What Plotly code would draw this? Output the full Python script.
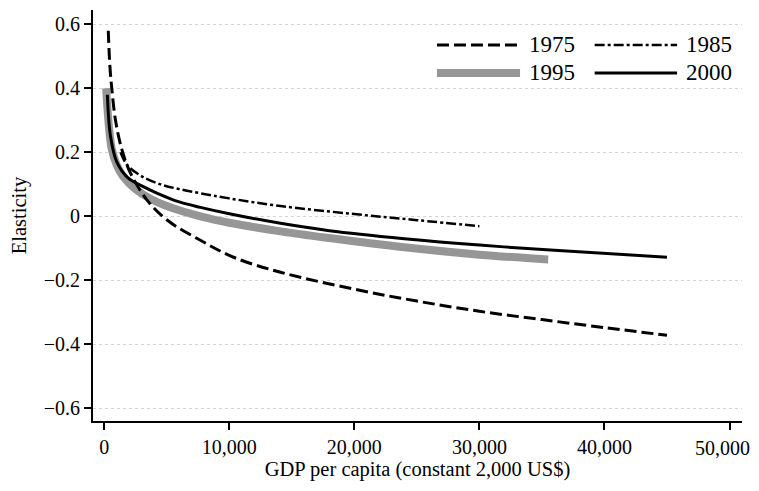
import plotly.graph_objects as go

# ---- data ----
x_1975 = [320, 450, 600, 900, 1400, 2100, 3440, 5050, 7690, 10340, 14100, 20000, 25000, 30000, 35000, 40000, 45000]
y_1975 = [0.58, 0.47, 0.40, 0.30, 0.21, 0.135, 0.05, -0.0125, -0.075, -0.128, -0.175, -0.228, -0.265, -0.297, -0.323, -0.348, -0.372]

x_1985 = [1300, 1840, 3000, 4500, 6000, 7690, 10000, 14100, 20000, 25000, 30000]
y_1985 = [0.20, 0.16, 0.125, 0.10, 0.085, 0.072, 0.056, 0.032, 0.007, -0.012, -0.031]

x_1995 = [150, 250, 400, 600, 1000, 1500, 2500, 3690, 5500, 7690, 10000, 14100, 18000, 24000, 30000, 35500]
y_1995 = [0.40, 0.34, 0.27, 0.21, 0.16, 0.125, 0.085, 0.055, 0.025, 0.0, -0.02, -0.047, -0.068, -0.097, -0.12, -0.135]

x_2000 = [250, 500, 1000, 1900, 3000, 4250, 6000, 7690, 10000, 14100, 18000, 24000, 30000, 36000, 45000]
y_2000 = [0.38, 0.25, 0.17, 0.12, 0.095, 0.072, 0.045, 0.028, 0.008, -0.022, -0.045, -0.07, -0.09, -0.106, -0.128]

y_ticks = [0.6, 0.4, 0.2, 0, -0.2, -0.4, -0.6]
y_tick_labels = ["0.6", "0.4", "0.2", "0", "\u22120.2", "\u22120.4", "\u22120.6"]
x_ticks = [0, 10000, 20000, 30000, 40000, 50000]
x_tick_labels = ["0", "10,000", "20,000", "30,000", "40,000", "50,000"]

FONT = "Liberation Serif, Times New Roman, serif"

fig = go.Figure()
fig.add_trace(go.Scatter(x=x_1995, y=y_1995, mode="lines", name="1995",
                         line=dict(color="#969696", width=8, shape="spline")))
fig.add_trace(go.Scatter(x=x_2000, y=y_2000, mode="lines", name="2000",
                         line=dict(color="black", width=3, shape="spline")))
fig.add_trace(go.Scatter(x=x_1985, y=y_1985, mode="lines", name="1985",
                         line=dict(color="black", width=2.5, shape="spline", dash="10px,3px,3px,3px")))
fig.add_trace(go.Scatter(x=x_1975, y=y_1975, mode="lines", name="1975",
                         line=dict(color="black", width=3, shape="spline", dash="12px,5px")))

# manual legend (paper coordinates)
legend_items = [
    ("1975", 0.530, 0.658, 0.915, dict(color="black", width=3, dash="12px,5px")),
    ("1985", 0.773, 0.900, 0.915, dict(color="black", width=2.5, dash="10px,3px,3px,3px")),
    ("1995", 0.530, 0.658, 0.847, dict(color="#969696", width=8)),
    ("2000", 0.773, 0.900, 0.847, dict(color="black", width=3)),
]
for label, x0, x1, yy, ln in legend_items:
    fig.add_shape(type="line", xref="paper", yref="paper", x0=x0, x1=x1, y0=yy, y1=yy, line=ln)
    fig.add_annotation(xref="paper", yref="paper", x=x1 + 0.010, y=yy, text=label,
                       showarrow=False, xanchor="left", yanchor="middle",
                       font=dict(family=FONT, size=23, color="black"))

# last x tick label drawn as annotation, nudged left so it stays inside the figure
shown_ticktext = x_tick_labels[:-1] + [""]
fig.add_annotation(xref="x", yref="paper", x=x_ticks[-1], y=0, text=x_tick_labels[-1],
                   showarrow=False, xanchor="center", yanchor="top", xshift=-7, yshift=-14,
                   font=dict(family=FONT, size=20, color="black"))

fig.update_layout(
    width=743, height=475,
    margin=dict(l=85, r=9, t=2, b=62),
    paper_bgcolor="white", plot_bgcolor="white",
    showlegend=False,
    font=dict(family=FONT, size=20, color="black"),
    xaxis=dict(range=[-900, 51000], tickvals=x_ticks, ticktext=shown_ticktext,
               showline=True, linecolor="black", linewidth=2,
               ticks="outside", ticklen=7, tickwidth=2, tickcolor="black",
               showgrid=False, zeroline=False,
               title=dict(text="GDP per capita (constant 2,000 US$)", font=dict(size=20.5), standoff=5)),
    yaxis=dict(range=[-0.64, 0.645], tickvals=y_ticks, ticktext=y_tick_labels,
               showline=True, linecolor="black", linewidth=2,
               ticks="outside", ticklen=7, tickwidth=2, tickcolor="black",
               showgrid=True, gridcolor="#d4d4d4", gridwidth=1, griddash="dot",
               zeroline=False,
               title=dict(text="Elasticity", font=dict(size=20.5), standoff=13)),
)

fig.write_html("out.html")
